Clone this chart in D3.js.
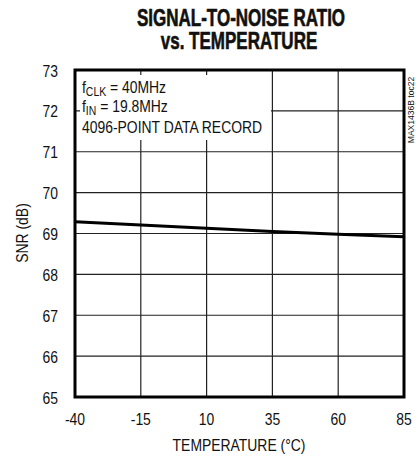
<!DOCTYPE html>
<html>
<head>
<meta charset="utf-8">
<script src="https://cdn.jsdelivr.net/npm/d3@7"></script>
<style>
  body { margin: 0; background: #fff; }
  text { font-family: "Liberation Sans", Arial, sans-serif; fill: #111; }
</style>
</head>
<body>
<script>
var temps = [-40, -15, 10, 35, 60, 85]
var snr = [69.29, 69.21, 69.13, 69.05, 68.98, 68.92]
var xTicks = [-40, -15, 10, 35, 60, 85]
var yTicks = [65, 66, 67, 68, 69, 70, 71, 72, 73]
var notes = ['4096-POINT DATA RECORD']

var W = 416, H = 457
var mLeft = 75, mRight = 404, mTop = 70, mBottom = 397
var SX = 0.87 // squeeze to look like a narrow face

var svg = d3.select('body').append('svg').attr('width', W).attr('height', H)

var x = d3.scaleLinear().domain([-40, 85]).range([mLeft, mRight])
var y = d3.scaleLinear().domain([65, 73]).range([mBottom, mTop])

function narrow(px, py, str, size, anchor, sx, rot) {
  var t = svg.append('text')
    .attr('transform', 'translate(' + px + ',' + py + ')' + (rot ? ' rotate(' + rot + ')' : '') + ' scale(' + sx + ',1)')
    .attr('text-anchor', anchor || 'start')
    .style('font-size', size + 'px')
  if (str) t.text(str)
  return t
}

// title
narrow(241, 25.5, 'SIGNAL-TO-NOISE RATIO', 23, 'middle', 0.74)
  .style('font-weight', 'bold').attr('stroke', '#111').attr('stroke-width', 0.6)
narrow(239, 49, 'vs. TEMPERATURE', 23, 'middle', 0.74)
  .style('font-weight', 'bold').attr('stroke', '#111').attr('stroke-width', 0.6)

// grid
svg.append('g').selectAll('line').data(xTicks).enter().append('line')
  .attr('x1', d => x(d)).attr('x2', d => x(d)).attr('y1', mTop).attr('y2', mBottom)
  .attr('stroke', '#222').attr('stroke-width', 1.2)
svg.append('g').selectAll('line').data(yTicks).enter().append('line')
  .attr('x1', mLeft).attr('x2', mRight).attr('y1', d => y(d)).attr('y2', d => y(d))
  .attr('stroke', '#222').attr('stroke-width', 1.2)

// note box covering grid
svg.append('rect').attr('x', 80).attr('y', 75).attr('width', 191).attr('height', 65).attr('fill', '#fff')
var t1 = narrow(82, 93, null, 16, 'start', SX)
t1.append('tspan').text('f')
t1.append('tspan').attr('dy', 3).style('font-size', '12px').text('CLK')
t1.append('tspan').attr('dy', -3).text(' = 40MHz')
var t2 = narrow(82, 112, null, 16, 'start', SX)
t2.append('tspan').text('f')
t2.append('tspan').attr('dy', 3).style('font-size', '12px').text('IN')
t2.append('tspan').attr('dy', -3).text(' = 19.8MHz')
narrow(82, 133, notes[0], 16, 'start', SX)

// data line
var line = d3.line().x((d, i) => x(temps[i])).y(d => y(d))
svg.append('path').datum(snr).attr('d', line).attr('fill', 'none')
  .attr('stroke', '#000').attr('stroke-width', 3)

// frame
svg.append('rect').attr('x', mLeft).attr('y', mTop).attr('width', mRight - mLeft).attr('height', mBottom - mTop)
  .attr('fill', 'none').attr('stroke', '#000').attr('stroke-width', 3)

// tick labels
xTicks.forEach(function (d) {
  narrow(x(d), 425, d < 0 ? '-' + Math.abs(d) : String(d), 16, 'middle', SX)
})
yTicks.forEach(function (d) {
  narrow(58, y(d) + 6.5, String(d), 16, 'end', SX)
})

narrow(28, 233, 'SNR (dB)', 16, 'middle', SX, -90)
narrow(239, 451, 'TEMPERATURE (°C)', 16, 'middle', SX)
narrow(414, 110, 'MAX1436B toc22', 9, 'middle', 0.95, -90)
</script>
</body>
</html>
